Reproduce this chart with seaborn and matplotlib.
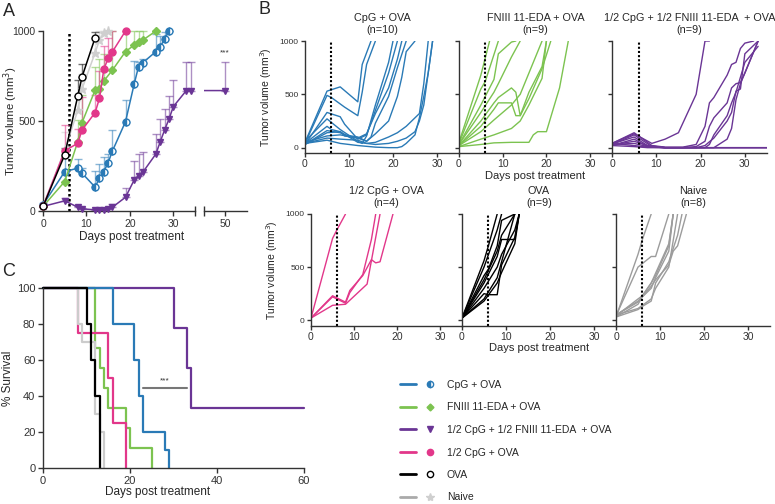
import numpy as np
import pandas as pd
import matplotlib
matplotlib.use("Agg")
import matplotlib.pyplot as plt
import seaborn as sns
from matplotlib.lines import Line2D
from matplotlib.legend_handler import HandlerTuple

sns.set_style("ticks")
plt.rcParams["font.family"] = ["Liberation Sans", "DejaVu Sans"]
plt.rcParams["axes.linewidth"] = 1.0
plt.rcParams["axes.edgecolor"] = "#333333"
plt.rcParams["xtick.color"] = "#333333"
plt.rcParams["ytick.color"] = "#333333"

# ---------------------------------------------------------------------------
# groups
# ---------------------------------------------------------------------------
groups = ["CpG + OVA", "FNIII 11-EDA + OVA", "1/2 CpG + 1/2 FNIII 11-EDA  + OVA",
          "1/2 CpG + OVA", "OVA", "Naive"]
n_mice = [10, 9, 9, 4, 9, 8]
colors = ["#2a7ab6", "#7cc350", "#6a3595", "#e2378a", "#000000", "#a8a8a8"]
treat_day = 6

# ---------------------------------------------------------------------------
# A : mean tumor volume + SEM
# ---------------------------------------------------------------------------
a_days = [
    [0, 5, 8, 9, 12, 13, 14, 15, 16, 19, 21, 22, 23, 26, 27, 28, 29],
    [0, 5, 8, 9, 12, 13, 14, 16, 19, 21, 22, 23, 26],
    [0, 5, 8, 9, 12, 13, 14, 15, 16, 19, 21, 22, 23, 26, 27, 28, 29, 30, 33, 34, 50],
    [0, 5, 8, 9, 12, 13, 14, 15, 16, 19],
    [0, 5, 8, 9, 12],
    [0, 5, 8, 9, 12, 13, 14, 15],
]
a_mean = [
    [37, 221, 240, 212, 135, 185, 221, 271, 336, 498, 707, 803, 825, 886, 913, 956, 1000],
    [28, 166, 387, 493, 673, 677, 723, 784, 886, 922, 941, 950, 1000],
    [28, 59, 24, 15, 9, 9, 9, 13, 24, 79, 175, 197, 218, 319, 387, 452, 511, 581, 670, 670, 670],
    [28, 336, 378, 452, 548, 627, 788, 849, 886, 1000],
    [28, 314, 640, 747, 963],
    [30, 340, 560, 680, 880, 950, 990, 1000],
]
a_sem = [
    [8, 80, 50, 30, 90, 80, 80, 45, 115, 120, 125, 25, 20, 100, 60, 40, 0],
    [5, 40, 120, 150, 130, 170, 150, 216, 114, 78, 59, 50, 0],
    [5, 15, 8, 5, 3, 3, 3, 5, 20, 50, 105, 123, 112, 111, 123, 118, 129, 149, 160, 160, 160],
    [5, 145, 80, 180, 100, 150, 130, 110, 114, 0],
    [5, 40, 90, 70, 30],
    [5, 100, 80, 80, 70, 50, 10, 0],
]
a_markers = ["o", "D", "v", "o", "o", "*"]

# ---------------------------------------------------------------------------
# B : individual mice
# ---------------------------------------------------------------------------
cpg_days = [[0, 5, 8, 12, 13, 15], [0, 5, 6, 9, 12, 13, 14, 16],
            [0, 5, 8, 9, 12, 14, 16, 19, 21], [0, 5, 8, 12, 13, 14, 16, 19, 20],
            [0, 5, 6, 8, 9, 12, 14, 16, 19, 21, 22], [0, 5, 8, 9, 12, 14, 15, 16, 19, 21, 23],
            [0, 5, 8, 12, 14, 16, 19, 21, 22, 23, 25], [0, 5, 8, 12, 14, 16, 19, 21, 23, 26, 27, 28],
            [0, 5, 8, 12, 16, 19, 21, 23, 25, 26, 27, 28, 29],
            [0, 5, 8, 12, 16, 19, 21, 22, 23, 25, 26, 27, 28, 29]]
cpg_vols = [[50, 530, 570, 430, 780, 1000], [40, 490, 470, 380, 300, 520, 780, 1000],
            [30, 330, 290, 220, 80, 120, 350, 700, 1000], [60, 270, 170, 60, 40, 110, 400, 800, 1000],
            [40, 200, 170, 150, 110, 90, 130, 320, 560, 830, 1000],
            [30, 160, 140, 120, 100, 60, 100, 230, 480, 750, 1000],
            [50, 110, 120, 90, 60, 130, 250, 480, 660, 900, 1000],
            [40, 90, 80, 70, 40, 50, 100, 140, 200, 320, 600, 1000],
            [30, 140, 150, 50, 30, 40, 60, 90, 150, 250, 400, 700, 1000],
            [40, 70, 40, 20, 5, 0, 0, 10, 40, 120, 280, 480, 700, 1000]]

fn_days = [[0, 5, 7], [0, 5, 6, 9], [0, 5, 8, 9, 12, 13], [0, 5, 8, 9, 12, 14],
           [0, 5, 8, 9, 12, 13, 14, 16, 19, 20], [0, 5, 8, 9, 12, 13, 14, 16, 19, 21],
           [0, 5, 8, 12, 14, 16, 19], [0, 5, 8, 12, 14, 16, 19, 20],
           [0, 5, 8, 12, 16, 17, 18, 20, 23, 25]]
fn_vols = [[50, 680, 1000], [40, 550, 620, 1000], [30, 400, 640, 880, 990, 1000],
           [30, 330, 520, 600, 850, 1000], [20, 250, 420, 470, 560, 520, 300, 520, 760, 1000],
           [20, 200, 360, 420, 420, 300, 300, 460, 740, 1000],
           [20, 150, 260, 400, 500, 700, 1000], [10, 80, 120, 180, 250, 400, 650, 1000],
           [10, 30, 45, 50, 50, 120, 150, 150, 560, 1000]]

half_days = [[0, 5, 9, 12, 15, 19, 21, 22],
             [0, 5, 9, 12, 16, 19, 21, 22, 23, 26, 27, 28, 29, 30, 32],
             [0, 5, 9, 12, 16, 19, 21, 22, 23, 26, 27, 28, 29, 30, 33],
             [0, 5, 8, 12, 16, 19, 21, 23, 26, 27, 28, 29, 30, 33],
             [0, 5, 8, 12, 16, 19, 21, 22, 23, 26, 27, 28, 30, 33],
             [0, 5, 8, 12, 16, 19, 21, 23, 26, 27, 28, 29, 30, 33],
             [0, 5, 8, 12, 35], [0, 5, 8, 12, 35], [0, 5, 8, 12, 35]]
half_vols = [[40, 130, 40, 80, 140, 500, 1000, 1000],
             [40, 140, 20, 5, 5, 30, 200, 420, 470, 680, 780, 800, 930, 980, 1000],
             [30, 120, 10, 0, 0, 10, 60, 200, 280, 420, 560, 600, 610, 700, 1000],
             [35, 100, 20, 0, 0, 0, 20, 90, 250, 330, 530, 550, 880, 1000],
             [20, 80, 10, 0, 0, 0, 0, 30, 120, 300, 420, 520, 800, 950],
             [25, 60, 20, 0, 0, 0, 0, 0, 80, 180, 450, 600, 700, 1000],
             [30, 40, 10, 0, 0], [40, 20, 5, 0, 0], [20, 10, 0, 0, 0]]

hcpg_days = [[0, 5, 6, 8], [0, 5, 8, 9, 12, 14, 15, 16, 19],
             [0, 5, 8, 9, 12, 14, 15], [0, 5, 8, 13, 15, 16]]
hcpg_vols = [[20, 770, 850, 1000], [20, 230, 170, 280, 420, 570, 540, 550, 1000],
             [20, 220, 160, 260, 430, 760, 1000], [20, 140, 150, 340, 780, 1000]]

ova_days = [[0, 5, 6, 8], [0, 5, 8, 9], [0, 5, 6, 8, 9, 12], [0, 5, 8, 9, 12, 13],
            [0, 5, 6, 8, 9, 12, 13], [0, 5, 8, 9, 12, 13], [0, 5, 8, 9, 10, 12],
            [0, 5, 8, 9, 12], [0, 5, 8, 9, 12, 13]]
ova_vols = [[20, 560, 700, 1000], [20, 500, 850, 1000], [20, 420, 480, 700, 940, 1000],
            [20, 300, 500, 620, 850, 1000], [20, 250, 240, 240, 520, 780, 1000],
            [20, 350, 600, 760, 760, 1000], [20, 200, 400, 550, 700, 1000],
            [20, 380, 650, 800, 1000], [20, 180, 350, 450, 720, 1000]]

naive_days = [[0, 5, 6, 8], [0, 5, 8, 9, 12], [0, 5, 6, 8, 9, 12, 13], [0, 5, 8, 9, 12, 13],
              [0, 5, 6, 8, 9, 12, 13, 14, 16], [0, 5, 8, 9, 12, 14],
              [0, 5, 6, 8, 9, 12, 14, 15], [0, 5, 8, 12, 13]]
naive_vols = [[30, 620, 760, 1000], [40, 500, 600, 600, 1000], [40, 200, 230, 350, 420, 700, 1000],
              [50, 180, 300, 400, 650, 1000], [30, 150, 220, 320, 380, 520, 650, 700, 1000],
              [50, 110, 200, 300, 500, 1000], [30, 100, 130, 180, 350, 550, 800, 1000],
              [50, 170, 350, 720, 1000]]

b_days = [cpg_days, fn_days, half_days, hcpg_days, ova_days, naive_days]
b_vols = [cpg_vols, fn_vols, half_vols, hcpg_vols, ova_vols, naive_vols]
b_colors = ["#2a7ab6", "#7cc350", "#6a3595", "#e2378a", "#000000", "#9c9c9c"]

# ---------------------------------------------------------------------------
# C : survival
# ---------------------------------------------------------------------------
surv_days = [[0, 16, 21, 22, 23, 28, 29],
             [0, 12, 13, 14, 15, 19, 20, 25],
             [0, 30, 33, 34, 60],
             [0, 8, 15, 16, 19],
             [0, 10, 11, 12, 13],
             [0, 8, 9, 12, 13, 14]]
surv_pct = [[100, 80, 60, 40, 20, 10, 0],
            [100, 66.7, 55.6, 44.4, 33.3, 22.2, 11.1, 0],
            [100, 77.8, 55.6, 33.3, 33.3],
            [100, 75, 50, 25, 0],
            [100, 80, 60, 40, 0],
            [100, 80, 70, 30, 20, 0]]
surv_colors = ["#2a7ab6", "#7cc350", "#6a3595", "#e2378a", "#000000", "#cccccc"]
surv_order = [2, 1, 3, 5, 0, 4]
sig_days = [23, 33]
sig_level = 44.7

# ---------------------------------------------------------------------------
W, H = 775, 504
fig = plt.figure(figsize=(W / 100, H / 100), dpi=100)


def box(x0, x1, y0, y1):
    return [x0 / W, 1 - y1 / H, (x1 - x0) / W, (y1 - y0) / H]


def marker_kw(i, ms=5):
    kw = dict(marker=a_markers[i], markersize=ms, color=colors[i],
              markeredgecolor=colors[i], markerfacecolor=colors[i], markeredgewidth=1)
    if i == 0:
        kw.update(fillstyle="left", markerfacecoloralt="white")
    if i == 1:
        kw.update(markersize=ms - 1)
    if i == 4:
        kw.update(markerfacecolor="white")
    if i == 5:
        kw.update(markersize=ms + 1.5, color="#cfcfcf", markeredgecolor="#cfcfcf",
                  markerfacecolor="#cfcfcf")
    return kw


# ----------------------------- panel A -------------------------------------
axA = fig.add_axes(box(37.8, 195, 23.8, 216.9))
axA2 = fig.add_axes(box(204, 246.7, 23.8, 216.9))
for ax in (axA, axA2):
    ax.patch.set_visible(False)
    ax.set_ylim(-30, 1040)
    ax.spines[["top", "right"]].set_visible(False)
    ax.spines["bottom"].set_position(("data", 0))
    ax.tick_params(labelsize=7.5, length=3.5, width=1, pad=2)
axA.set_xlim(-1.2, 35)
axA2.set_xlim(45.2, 55)
axA.spines["left"].set_position(("data", 0))
axA.spines["left"].set_bounds(0, 1000)
axA.spines["bottom"].set_bounds(0, 35)
axA2.spines["left"].set_visible(False)
axA2.spines["bottom"].set_bounds(45.2, 55)
axA.set_xticks([0, 10, 20, 30])
axA.set_yticks([0, 500, 1000])
axA.set_xticks([35], minor=True)
axA2.set_xticks([50])
axA2.set_xticks([45.2], minor=True)
axA2.set_yticks([])
for ax in (axA, axA2):
    ax.tick_params(which="minor", direction="inout", length=7, width=1)
fig.text(10.5 / W, 1 - 121 / H, "Tumor volume (mm$^3$)", rotation=90, ha="center",
         va="center", fontsize=8.2)

axA.vlines(treat_day, 0, 1000, colors="black", linestyles=(0, (1, 1)), lw=1.8, zorder=1)

for i in [5, 0, 1, 2, 3, 4]:
    d = np.array(a_days[i])
    m = np.array(a_mean[i])
    s = np.array(a_sem[i])
    for ax, keep in ((axA, d <= 35), (axA2, d >= 0)):
        if not keep.any():
            continue
        ax.errorbar(d[keep], m[keep], yerr=[np.zeros(keep.sum()), s[keep]], fmt="none",
                    ecolor=colors[i] if i != 5 else "#cfcfcf", alpha=0.55,
                    elinewidth=1, capsize=3, capthick=1, zorder=2)
        ax.plot(d[keep], m[keep], lw=1.1, zorder=3, clip_on=(ax is axA2),
                **marker_kw(i))
axA2.text(50, 860, "***", ha="center", va="bottom", fontsize=6, color="#333333")
fig.text(132 / W, 1 - 237 / H, "Days post treatment", ha="center", va="center", fontsize=8.5)

# ----------------------------- panel B -------------------------------------
b_boxes = [box(305, 459, 41, 153), box(459, 612, 41, 153), box(612, 767, 41, 153),
           box(311, 462, 214, 325.5), box(462, 616, 214, 325.5), box(616, 770, 214, 325.5)]
for i in range(6):
    ax = fig.add_axes(b_boxes[i])
    ax.patch.set_visible(False)
    rows = []
    for m_id, (dd, vv) in enumerate(zip(b_days[i], b_vols[i])):
        for d, v in zip(dd, vv):
            rows.append({"mouse": m_id, "day": d, "vol": v})
    df = pd.DataFrame(rows)
    sns.lineplot(data=df, x="day", y="vol", units="mouse", estimator=None,
                 color=b_colors[i], lw=1.0, legend=False, ax=ax)
    ax.set_xlim(0, 35)
    ax.set_ylim(-50, 1000)
    ax.vlines(treat_day, -50, 1000, colors="black", linestyles=(0, (1, 1)), lw=1.5)
    ax.spines[["top", "right"]].set_visible(False)
    ax.set_xticks([0, 10, 20, 30])
    ax.set_yticks([0, 500, 1000])
    ax.tick_params(axis="x", labelsize=7.5, length=3, width=1, pad=1.5)
    ax.tick_params(axis="y", labelsize=6, length=3, width=1, pad=1.5)
    ax.set_xlabel("")
    ax.set_ylabel("")
    if i % 3 == 0:
        ax.set_ylabel("Tumor volume (mm$^3$)", fontsize=7.5, labelpad=4)
    else:
        ax.set_yticklabels([])
    if i % 3 == 1:
        ax.set_xlabel("Days post treatment", fontsize=8, labelpad=1)
    ax.set_title(f"{groups[i]}\n(n={n_mice[i]})", fontsize=7.8, pad=6, linespacing=1.25)

# ----------------------------- panel C -------------------------------------
c_xmax = 60
axC = fig.add_axes(box(43, 43 + c_xmax * 4.35, 288, 468))
axC.patch.set_visible(False)
for i in surv_order:
    sns.lineplot(x=surv_days[i], y=surv_pct[i], drawstyle="steps-post", color=surv_colors[i],
                 lw=1.6, ax=axC, clip_on=False, legend=False)
axC.plot(sig_days, [sig_level, sig_level], color="#777777", lw=1.5)
axC.text(np.mean(sig_days), sig_level + 1.5, "***", ha="center", va="bottom", fontsize=6,
         color="#333333")
axC.set_xlim(0, c_xmax)
axC.set_ylim(0, 100)
axC.spines[["top", "right"]].set_visible(False)
axC.set_xticks([0, 20, 40, 60])
axC.set_yticks([0, 20, 40, 60, 80, 100])
axC.tick_params(labelsize=8, length=3.5, width=1, pad=2)
axC.set_ylabel("% Survival", fontsize=8.5, labelpad=2)
axC.set_xlabel("Days post treatment", fontsize=8.5)
axC.xaxis.set_label_coords((158 - 43) / (c_xmax * 4.35), -0.1)

# ----------------------------- legend --------------------------------------
handles = []
for i in range(6):
    ln = Line2D([], [], color=colors[i] if i != 5 else "#aaaaaa", lw=2)
    mk = Line2D([], [], ls="none", **marker_kw(i, ms=4.5))
    handles.append((ln, mk))
fig.legend(handles, groups, handler_map={tuple: HandlerTuple(ndivide=None, pad=0.6)},
           loc="upper left", bbox_to_anchor=(400 / W, 1 - 380 / H), frameon=False,
           fontsize=7.5, handlelength=3.6, handletextpad=0.9, labelspacing=1.2,
           borderpad=0, borderaxespad=0)

# panel letters
for lab, (x, y) in zip("ABC", [(9, 12), (265, 10), (9, 272)]):
    fig.text(x / W, 1 - y / H, lab, fontsize=13, ha="center", va="center")

fig.savefig("out.png", dpi=100)
